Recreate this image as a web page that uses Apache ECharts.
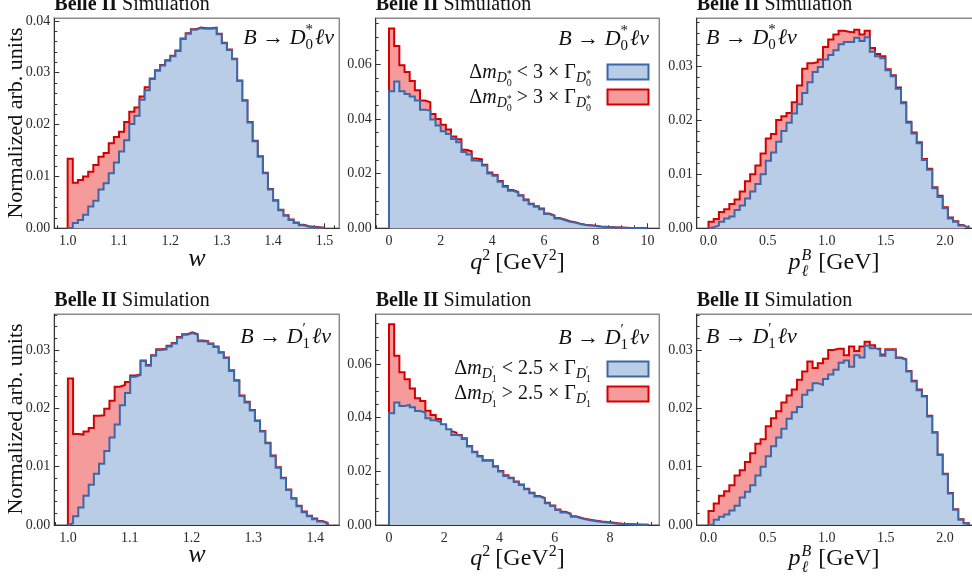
<!DOCTYPE html>
<html>
<head>
<meta charset="utf-8">
<script src="https://cdn.jsdelivr.net/npm/echarts@6/dist/echarts.min.js"></script>
<style>
  html, body { margin: 0; padding: 0; background: #fff; }
  #main { width: 972px; height: 580px; }
</style>
</head>
<body>
<div id="main"></div>
<script type="text/javascript">
// ---- histogram contents (normalized), 50 bins each ----
// narrow = blue (Δm < nΓ), all = red outline (total)
var W_D0_NARROW = [0.0001,0.0010,0.0016,0.0026,0.0042,0.0053,0.0075,0.0087,0.0106,0.0127,
  0.0148,0.0170,0.0201,0.0217,0.0248,0.0266,0.0288,0.0304,0.0314,0.0323,
  0.0332,0.0342,0.0365,0.0375,0.0383,0.0386,0.0385,0.0385,0.0386,0.0374,
  0.0357,0.0344,0.0326,0.0284,0.0246,0.0204,0.0168,0.0138,0.0106,0.0075,
  0.0053,0.0035,0.0024,0.0016,0.0010,0.0006,0.0003,0.0002,0.0001,0.0001];
var W_D0_ALL = [0.0134,0.0088,0.0093,0.0100,0.0109,0.0122,0.0138,0.0145,0.0164,0.0176,
  0.0186,0.0205,0.0225,0.0233,0.0254,0.0272,0.0289,0.0305,0.0315,0.0324,
  0.0333,0.0343,0.0366,0.0376,0.0384,0.0387,0.0386,0.0386,0.0387,0.0375,
  0.0358,0.0345,0.0327,0.0285,0.0247,0.0205,0.0169,0.0139,0.0107,0.0076,
  0.0054,0.0036,0.0025,0.0017,0.0011,0.0007,0.0004,0.0003,0.0002,0.0001];

var Q2_D0_NARROW = [0.0501,0.0537,0.0501,0.0491,0.0482,0.0467,0.0434,0.0430,0.0398,0.0376,
  0.0355,0.0345,0.0327,0.0315,0.0279,0.0270,0.0248,0.0245,0.0230,0.0200,
  0.0192,0.0170,0.0152,0.0137,0.0131,0.0119,0.0103,0.0088,0.0079,0.0070,
  0.0052,0.0045,0.0036,0.0030,0.0024,0.0021,0.0016,0.0012,0.0010,0.0008,
  0.0006,0.0005,0.0004,0.0003,0.0002,0.0001,0.0001,0.0001,0.0000,0.0000];
var Q2_D0_ALL = [0.0731,0.0667,0.0596,0.0572,0.0539,0.0505,0.0467,0.0461,0.0418,0.0400,
  0.0379,0.0361,0.0336,0.0326,0.0287,0.0282,0.0255,0.0252,0.0232,0.0204,
  0.0195,0.0173,0.0155,0.0140,0.0133,0.0121,0.0105,0.0090,0.0081,0.0072,
  0.0054,0.0047,0.0038,0.0032,0.0026,0.0022,0.0017,0.0013,0.0011,0.0009,
  0.0007,0.0006,0.0005,0.0003,0.0003,0.0002,0.0001,0.0001,0.0001,0.0000];

var P_D0_NARROW = [0.0002,0.0005,0.0012,0.0018,0.0022,0.0034,0.0042,0.0055,0.0068,0.0082,
  0.0100,0.0125,0.0140,0.0160,0.0180,0.0195,0.0212,0.0229,0.0250,0.0270,
  0.0289,0.0298,0.0312,0.0320,0.0329,0.0340,0.0344,0.0344,0.0352,0.0346,
  0.0353,0.0326,0.0318,0.0314,0.0292,0.0281,0.0258,0.0231,0.0195,0.0175,
  0.0157,0.0126,0.0108,0.0074,0.0058,0.0037,0.0018,0.0012,0.0005,0.0002];
var P_D0_ALL = [0.0012,0.0017,0.0030,0.0035,0.0045,0.0053,0.0068,0.0087,0.0100,0.0116,
  0.0138,0.0166,0.0174,0.0200,0.0207,0.0213,0.0233,0.0264,0.0295,0.0305,
  0.0307,0.0312,0.0335,0.0349,0.0358,0.0365,0.0363,0.0362,0.0367,0.0358,
  0.0365,0.0333,0.0322,0.0318,0.0294,0.0283,0.0260,0.0233,0.0197,0.0177,
  0.0159,0.0128,0.0110,0.0076,0.0060,0.0039,0.0020,0.0013,0.0006,0.0002];

var W_D1_NARROW = [0.0003,0.0015,0.0030,0.0050,0.0069,0.0088,0.0105,0.0127,0.0150,0.0172,
  0.0205,0.0226,0.0254,0.0257,0.0281,0.0273,0.0290,0.0300,0.0301,0.0306,
  0.0311,0.0321,0.0326,0.0329,0.0326,0.0315,0.0314,0.0310,0.0305,0.0295,
  0.0286,0.0264,0.0247,0.0221,0.0210,0.0196,0.0178,0.0160,0.0140,0.0118,
  0.0098,0.0080,0.0060,0.0045,0.0032,0.0022,0.0015,0.0010,0.0006,0.0003];
var W_D1_ALL = [0.0251,0.0156,0.0155,0.0160,0.0166,0.0187,0.0188,0.0199,0.0213,0.0237,
  0.0240,0.0245,0.0256,0.0258,0.0282,0.0274,0.0291,0.0301,0.0302,0.0307,
  0.0312,0.0322,0.0327,0.0330,0.0327,0.0316,0.0315,0.0311,0.0306,0.0296,
  0.0287,0.0265,0.0248,0.0222,0.0211,0.0197,0.0179,0.0161,0.0141,0.0119,
  0.0099,0.0081,0.0061,0.0046,0.0033,0.0023,0.0016,0.0011,0.0007,0.0004];

var Q2_D1_NARROW = [0.0416,0.0456,0.0443,0.0447,0.0439,0.0425,0.0419,0.0398,0.0390,0.0383,
  0.0375,0.0357,0.0335,0.0333,0.0320,0.0292,0.0271,0.0255,0.0239,0.0239,
  0.0217,0.0199,0.0183,0.0174,0.0160,0.0149,0.0133,0.0118,0.0106,0.0099,
  0.0081,0.0071,0.0056,0.0047,0.0040,0.0031,0.0025,0.0020,0.0017,0.0014,
  0.0011,0.0009,0.0007,0.0005,0.0004,0.0003,0.0002,0.0001,0.0001,0.0001];
var Q2_D1_ALL = [0.0748,0.0631,0.0569,0.0543,0.0509,0.0472,0.0462,0.0426,0.0410,0.0395,
  0.0373,0.0350,0.0344,0.0335,0.0323,0.0294,0.0273,0.0257,0.0241,0.0241,
  0.0219,0.0201,0.0185,0.0176,0.0162,0.0151,0.0135,0.0120,0.0108,0.0101,
  0.0083,0.0073,0.0058,0.0049,0.0042,0.0033,0.0027,0.0022,0.0019,0.0016,
  0.0013,0.0011,0.0009,0.0007,0.0005,0.0004,0.0003,0.0002,0.0001,0.0001];

var P_D1_NARROW = [0.0001,0.0009,0.0014,0.0018,0.0025,0.0033,0.0047,0.0057,0.0068,0.0085,
  0.0100,0.0118,0.0135,0.0150,0.0165,0.0182,0.0193,0.0202,0.0223,0.0231,
  0.0243,0.0240,0.0250,0.0258,0.0266,0.0278,0.0282,0.0271,0.0291,0.0287,
  0.0307,0.0303,0.0300,0.0290,0.0300,0.0300,0.0286,0.0283,0.0263,0.0246,
  0.0231,0.0220,0.0186,0.0158,0.0120,0.0087,0.0054,0.0026,0.0009,0.0003];
var P_D1_ALL = [0.0024,0.0037,0.0050,0.0058,0.0068,0.0085,0.0094,0.0108,0.0123,0.0139,
  0.0147,0.0169,0.0183,0.0195,0.0210,0.0222,0.0232,0.0249,0.0263,0.0280,
  0.0269,0.0277,0.0285,0.0300,0.0302,0.0302,0.0291,0.0306,0.0298,0.0306,
  0.0314,0.0308,0.0302,0.0292,0.0301,0.0301,0.0287,0.0284,0.0264,0.0247,
  0.0232,0.0221,0.0187,0.0159,0.0121,0.0088,0.0055,0.0027,0.0010,0.0003];

// ---- tick labels ----
var X_TICKS_W_D0 = [1.0, 1.1, 1.2, 1.3, 1.4, 1.5];
var X_TICKS_W_D1 = [1.0, 1.1, 1.2, 1.3, 1.4];
var X_TICKS_Q2_D0 = [0, 2, 4, 6, 8, 10];
var X_TICKS_Q2_D1 = [0, 2, 4, 6, 8];
var X_TICKS_P = [0, 0.5, 1.0, 1.5, 2.0];
var Y_TICKS_04 = [0, 0.01, 0.02, 0.03, 0.04];
var Y_TICKS_03 = [0, 0.01, 0.02, 0.03];
var Y_TICKS_06 = [0, 0.02, 0.04, 0.06];

var BLUE_LINE = '#3b68a8', BLUE_FILL = '#b9cde6';
var RED_LINE = '#d40000', RED_FILL = '#f59b9c';
var SERIF = '"Liberation Serif", "DejaVu Serif", serif';

// panel layout: grid box [left, top, width, height], axis ranges, binning
var panels = [
  {box: [54.3, 18.3, 285, 210], xr: [0.974, 1.529], yr: [0, 0.0405], lo: 1.0, bin: 0.01,
   all: W_D0_ALL, narrow: W_D0_NARROW, xt: X_TICKS_W_D0, xm: 0.02, xd: 1, yt: Y_TICKS_04, ym: 0.002},
  {box: [375.7, 18.3, 283.6, 210], xr: [-0.515, 10.46], yr: [0, 0.0768], lo: 0, bin: 0.2,
   all: Q2_D0_ALL, narrow: Q2_D0_NARROW, xt: X_TICKS_Q2_D0, xm: 0.5, xd: 0, yt: Y_TICKS_06, ym: 0.005},
  {box: [696.7, 18.3, 276.3, 210], xr: [-0.1, 2.237], yr: [0, 0.0388], lo: 0, bin: 0.044,
   all: P_D0_ALL, narrow: P_D0_NARROW, xt: X_TICKS_P, xm: 0.1, xd: 1, yt: Y_TICKS_03, ym: 0.002},
  {box: [54.3, 314.3, 285, 210.7], xr: [0.978, 1.439], yr: [0, 0.0361], lo: 1.0, bin: 0.0084,
   all: W_D1_ALL, narrow: W_D1_NARROW, xt: X_TICKS_W_D1, xm: 0.02, xd: 1, yt: Y_TICKS_03, ym: 0.002},
  {box: [375.7, 314.3, 283.6, 210.7], xr: [-0.481, 9.785], yr: [0, 0.0785], lo: 0, bin: 0.188,
   all: Q2_D1_ALL, narrow: Q2_D1_NARROW, xt: X_TICKS_Q2_D1, xm: 0.5, xd: 0, yt: Y_TICKS_06, ym: 0.005},
  {box: [696.7, 314.3, 276.3, 210.7], xr: [-0.1, 2.237], yr: [0, 0.0361], lo: 0, bin: 0.044,
   all: P_D1_ALL, narrow: P_D1_NARROW, xt: X_TICKS_P, xm: 0.1, xd: 1, yt: Y_TICKS_03, ym: 0.002}
];

// step outline through bin edges
function steps(lo, bin, vals) {
  var pts = [[lo, 0]];
  for (var i = 0; i < vals.length; i++) {
    pts.push([lo + i * bin, vals[i]]);
    pts.push([lo + (i + 1) * bin, vals[i]]);
  }
  pts.push([lo + vals.length * bin, 0]);
  return pts;
}

function minors(lo, hi, step, majors) {
  var out = [];
  for (var k = Math.ceil(lo / step - 1e-9); k * step <= hi + 1e-9; k++) {
    var v = +(k * step).toFixed(6);
    var isMajor = majors.some(function (m) { return Math.abs(m - v) < 1e-9; });
    if (!isMajor) out.push(v);
  }
  return out;
}

var grids = [], xAxes = [], yAxes = [], series = [];
panels.forEach(function (p, i) {
  grids.push({left: p.box[0], top: p.box[1], width: p.box[2], height: p.box[3],
    show: true, borderColor: '#8a8a8a', borderWidth: 1.5, containLabel: false, outerBoundsMode: 'none'});
  var lbl = {fontFamily: SERIF, fontSize: 14, color: '#2a2a2a'};
  xAxes.push({gridIndex: i, type: 'value', position: 'bottom', min: p.xr[0], max: p.xr[1],
    axisLine: {show: true, onZero: false, lineStyle: {color: '#333', width: 1}},
    axisTick: {show: true, inside: true, length: 5, customValues: p.xt, lineStyle: {color: '#333'}},
    axisLabel: Object.assign({customValues: p.xt, margin: 6,
      formatter: function (v) { return v.toFixed(p.xd); }}, lbl),
    splitLine: {show: false}});
  xAxes.push({gridIndex: i, type: 'value', position: 'bottom', min: p.xr[0], max: p.xr[1],
    axisLine: {show: false, onZero: false},
    axisTick: {show: true, inside: true, length: 3, customValues: minors(p.xr[0], p.xr[1], p.xm, p.xt),
      lineStyle: {color: '#333'}},
    axisLabel: {show: false}, splitLine: {show: false}});
  yAxes.push({gridIndex: i, type: 'value', position: 'left', min: p.yr[0], max: p.yr[1],
    axisLine: {show: true, onZero: false, lineStyle: {color: '#333', width: 1}},
    axisTick: {show: true, inside: true, length: 5, customValues: p.yt, lineStyle: {color: '#333'}},
    axisLabel: Object.assign({customValues: p.yt, margin: 4,
      formatter: function (v) { return v.toFixed(2); }}, lbl),
    splitLine: {show: false}});
  yAxes.push({gridIndex: i, type: 'value', position: 'left', min: p.yr[0], max: p.yr[1],
    axisLine: {show: false, onZero: false},
    axisTick: {show: true, inside: true, length: 3, customValues: minors(p.yr[0], p.yr[1], p.ym, p.yt),
      lineStyle: {color: '#333'}},
    axisLabel: {show: false}, splitLine: {show: false}});

  series.push({type: 'line', xAxisIndex: 2 * i, yAxisIndex: 2 * i, data: steps(p.lo, p.bin, p.all),
    symbol: 'none', z: 2, silent: true, animation: false,
    lineStyle: {color: RED_LINE, width: 2, join: 'miter'}, areaStyle: {color: RED_FILL, opacity: 1}});
  series.push({type: 'line', xAxisIndex: 2 * i, yAxisIndex: 2 * i, data: steps(p.lo, p.bin, p.narrow),
    symbol: 'none', z: 3, silent: true, animation: false,
    lineStyle: {color: BLUE_LINE, width: 2, join: 'miter'}, areaStyle: {color: BLUE_FILL, opacity: 1}});
});

// ---- math-like text built from runs (baseline aligned) ----
var meas = document.createElement('canvas').getContext('2d');
function fontStr(o, size) {
  return (o.i ? 'italic ' : '') + (o.b ? 'bold ' : '') + size + 'px ' + SERIF;
}
function formula(x, y, align, size, items, rot) {
  var runs = [], cx = 0;
  items.forEach(function (it) {
    var group = it.stack || [it], adv = 0;
    group.forEach(function (g) {
      var s = g.s || size;
      meas.font = fontStr(g, s);
      var w = meas.measureText(g.t).width;
      runs.push({o: g, s: s, x: cx + (g.dx || 0), dy: g.dy || 0});
      adv = Math.max(adv, w + (g.dx || 0));
    });
    cx += adv + (it.gap || 0);
  });
  var x0 = align === 'right' ? -cx : (align === 'center' ? -cx / 2 : 0);
  return {type: 'group', x: x, y: y, rotation: rot || 0, silent: true,
    children: runs.map(function (r) {
      return {type: 'text', x: x0 + r.x, y: r.dy - 0.33 * r.s,
        style: {text: r.o.t, font: fontStr(r.o, r.s), fill: '#111', textAlign: 'left', textVerticalAlign: 'middle'}};
    })};
}

function decay(sub, sup) {
  return [{t: 'B', i: 1}, {t: ' \u2192 '}, {t: 'D', i: 1},
    {stack: [{t: sub, s: 15, dy: 5}, {t: sup, s: 15, dy: -10}], gap: 2},
    {t: '\u2113\u03bd', i: 1}];
}
function legendLine(cmp, n, sub, sup) {
  var idx = [{t: 'D', i: 1, s: 14, dy: 4}, {stack: [{t: sub, s: 10, dy: 8}, {t: sup, s: 10, dy: -1}]}];
  return [{t: '\u0394'}, {t: 'm', i: 1}].concat(idx, [{t: ' ' + cmp + ' ' + n + ' \u00d7 \u0393'}], idx);
}

var graphics = [];
var rowBase = [0, 296];
[0, 1].forEach(function (r) {
  var dy = rowBase[r];
  [54.3, 375.7, 696.7].forEach(function (x) {
    graphics.push(formula(x, 11 + dy, 'left', 20, [{t: 'Belle II', b: 1}, {t: ' Simulation'}]));
  });
  graphics.push(formula(23, 123 + dy, 'center', 22, [{t: 'Normalized arb. units'}], Math.PI / 2));
  graphics.push(formula(197, 268 + dy, 'center', 26, [{t: 'w', i: 1}]));
  graphics.push(formula(517.5, 271 + dy, 'center', 24,
    [{t: 'q', i: 1}, {t: '2', s: 16, dy: -10, gap: 5}, {t: '[GeV'}, {t: '2', s: 16, dy: -10}, {t: ']'}]));
  graphics.push(formula(834, 271 + dy, 'center', 24,
    [{t: 'p', i: 1}, {stack: [{t: '\u2113', i: 1, s: 16, dy: 6, dx: 1}, {t: 'B', i: 1, s: 16, dy: -10, dx: 1}], gap: 7},
     {t: '[GeV]'}]));
});

// decay annotations
graphics.push(formula(334, 45, 'right', 22, decay('0', '*')));
graphics.push(formula(649, 46, 'right', 22, decay('0', '*')));
graphics.push(formula(706, 45, 'left', 22, decay('0', '*')));
graphics.push(formula(331, 344, 'right', 22, decay('1', '\u2032')));
graphics.push(formula(649, 345, 'right', 22, decay('1', '\u2032')));
graphics.push(formula(706, 344, 'left', 22, decay('1', '\u2032')));

// legends
graphics.push(formula(591, 79, 'right', 20, legendLine('<', '3', '0', '*')));
graphics.push(formula(591, 104, 'right', 20, legendLine('>', '3', '0', '*')));
graphics.push(formula(591, 375, 'right', 20, legendLine('<', '2.5', '1', '\u2032')));
graphics.push(formula(591, 400, 'right', 20, legendLine('>', '2.5', '1', '\u2032')));
[[64.5, 89.5], [361.5, 386.5]].forEach(function (ys) {
  graphics.push({type: 'rect', shape: {x: 607.5, y: ys[0], width: 41, height: 15}, silent: true,
    style: {fill: BLUE_FILL, stroke: BLUE_LINE, lineWidth: 2}});
  graphics.push({type: 'rect', shape: {x: 607.5, y: ys[1], width: 41, height: 15}, silent: true,
    style: {fill: RED_FILL, stroke: RED_LINE, lineWidth: 2}});
});

var chart = echarts.init(document.getElementById('main'), null, {renderer: 'canvas'});
chart.setOption({
  animation: false,
  backgroundColor: '#fff',
  grid: grids,
  xAxis: xAxes,
  yAxis: yAxes,
  series: series,
  graphic: graphics
});
</script>
</body>
</html>
